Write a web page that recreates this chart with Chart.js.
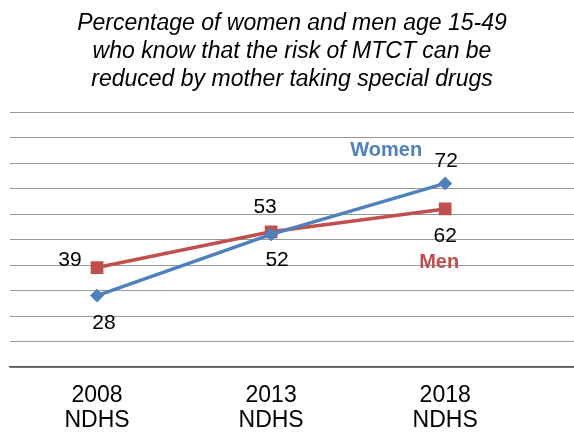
<!DOCTYPE html>
<html>
<head>
<meta charset="utf-8">
<script src="https://cdn.jsdelivr.net/npm/chart.js@4.4.0/dist/chart.umd.min.js"></script>
<style>
    html, body { margin: 0; padding: 0; background: #fff; }
    #wrap { width: 574px; height: 432px; }
</style>
</head>
<body>
<div id="wrap"><canvas id="mtct-chart"></canvas></div>
<script>
const surveyYears = ['2008', '2013', '2018'];
const surveyName = 'NDHS';
const womenValues = [28, 52, 72];
const menValues = [39, 53, 62];
const titleLines = [
    'Percentage of women and men age 15-49',
    'who know that the risk of MTCT can be',
    'reduced by mother taking special drugs'
];

const BLUE = '#4F81BD';
const RED = '#C0504D';
const FONT = '"Liberation Sans", Arial, sans-serif';

// where each value label sits relative to its point
const labelOffsets = {
    0: [[7, 28], [6, 26], [1, -22]],
    1: [[-27, -7], [-6, -25], [0, 27]]
};
const seriesNames = {
    0: { text: 'Women', dx: -59, dy: -33, color: BLUE },
    1: { text: 'Men', dx: -6, dy: 54, color: RED }
};

const pointLabels = {
    id: 'pointLabels',
    afterDatasetsDraw(chart) {
        const ctx = chart.ctx;
        ctx.save();
        ctx.textAlign = 'center';
        ctx.textBaseline = 'middle';
        chart.data.datasets.forEach((ds, i) => {
            const meta = chart.getDatasetMeta(i);
            ctx.font = '21px ' + FONT;
            ctx.fillStyle = '#000';
            meta.data.forEach((pt, j) => {
                const off = labelOffsets[i][j];
                ctx.fillText(String(ds.data[j].y), pt.x + off[0], pt.y + off[1]);
            });
            const last = meta.data[meta.data.length - 1];
            const name = seriesNames[i];
            ctx.font = 'bold 20px ' + FONT;
            ctx.fillStyle = name.color;
            ctx.fillText(name.text, last.x + name.dx, last.y + name.dy);
        });
        ctx.restore();
    }
};

function toPoints(values) {
    return values.map((v, i) => ({ x: i, y: v }));
}

const ctx = document.getElementById('mtct-chart').getContext('2d');
new Chart(ctx, {
    type: 'line',
    data: {
        datasets: [{
            label: 'Women',
            data: toPoints(womenValues),
            borderColor: BLUE,
            backgroundColor: BLUE,
            borderWidth: 3.5,
            pointStyle: 'rectRot',
            pointRadius: 4.5,
            tension: 0
        }, {
            label: 'Men',
            data: toPoints(menValues),
            borderColor: RED,
            backgroundColor: RED,
            borderWidth: 3.5,
            pointStyle: 'rect',
            pointRadius: 6.5,
            tension: 0
        }]
    },
    options: {
        responsive: true,
        maintainAspectRatio: false,
        animation: false,
        layout: { autoPadding: false, padding: { left: 10, right: 0, top: 0, bottom: 0 } },
        plugins: {
            legend: { display: false },
            tooltip: { enabled: false },
            title: {
                display: true,
                text: titleLines,
                color: '#000',
                font: { family: FONT, size: 23, style: 'italic', weight: 'normal', lineHeight: 28 / 23 },
                padding: { top: 10, bottom: 18 }
            }
        },
        scales: {
            x: {
                type: 'linear',
                min: -0.5,
                max: 2.74,
                afterBuildTicks: scale => {
                    scale.ticks = surveyYears.map((y, i) => ({ value: i }));
                },
                afterFit: scale => {
                    scale.height = 65;
                },
                ticks: {
                    color: '#000',
                    padding: 16,
                    maxRotation: 0,
                    autoSkip: false,
                    font: { family: FONT, size: 23, lineHeight: 25 / 23 },
                    callback: value => [surveyYears[value], surveyName]
                },
                grid: { display: false, drawTicks: false },
                border: { display: true, color: '#555', width: 1.5 }
            },
            y: {
                min: 0,
                max: 100,
                afterFit: scale => { scale.width = 0; },
                ticks: { display: false, stepSize: 10 },
                grid: { color: '#999', lineWidth: 1, drawTicks: false },
                border: { display: false }
            }
        }
    },
    plugins: [pointLabels]
});
</script>
</body>
</html>
